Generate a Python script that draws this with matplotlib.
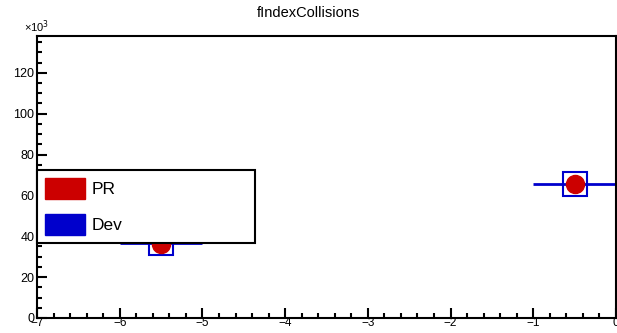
import numpy as np
import matplotlib.pyplot as plt
from matplotlib.patches import Rectangle
from matplotlib.ticker import MultipleLocator, FuncFormatter

plt.rcParams['font.family'] = ['Liberation Sans', 'DejaVu Sans']

# bin centres and contents
x_pr = [-5.5, -0.5]
y_pr = [36000, 65800]
x_dev = [-5.5, -0.5]
y_dev = [36500, 65800]
bin_width = 1.0

fig = plt.figure(figsize=(6.17, 3.33), dpi=100)
ax = fig.add_axes([37/617, 15/333, 579/617, 282/333])

# Dev: open blue squares with bin-width bars
ax.errorbar(x_dev, y_dev, xerr=bin_width/2, yerr=np.sqrt(y_dev), fmt='s',
            mfc='none', mec='#0000cc', mew=1.5, ms=17, color='#0000cc',
            elinewidth=2, capsize=0, zorder=2)
# PR: red filled circles
ax.errorbar(x_pr, y_pr, xerr=0, yerr=np.sqrt(y_pr), fmt='o', color='#cc0000',
            ms=13, elinewidth=0, capsize=0, zorder=3)

ax.set_xlim(-7, 0)
ax.set_ylim(0, 138000)
ax.xaxis.set_major_locator(MultipleLocator(1))
ax.xaxis.set_minor_locator(MultipleLocator(0.2))
ax.yaxis.set_major_locator(MultipleLocator(20000))
ax.yaxis.set_minor_locator(MultipleLocator(5000))
ax.yaxis.set_major_formatter(FuncFormatter(lambda v, p: '%d' % round(v / 1000)))
ax.xaxis.set_major_formatter(FuncFormatter(lambda v, p: ('%d' % v).replace('-', '\u2212')))

ax.tick_params(which='both', direction='in', top=False, right=False,
               width=1.5)
ax.tick_params(axis='y', labelsize=9, pad=2)
ax.tick_params(axis='x', labelsize=8.5, pad=-1)
ax.tick_params(which='major', length=7)
ax.tick_params(which='minor', length=3.5)
for s in ax.spines.values():
    s.set_linewidth(1.5)

ax.text(0, 1.005, '\u00d710$^{3}$', transform=ax.transAxes, fontsize=8,
        ha='center', va='bottom')
fig.text(0.5, 0.962, 'fIndexCollisions', ha='center', va='center', fontsize=10.5)

handles = [Rectangle((0, 0), 1, 1, fc='#cc0000', ec='#cc0000'),
           Rectangle((0, 0), 1, 1, fc='#0000cc', ec='#0000cc')]
leg = ax.legend(handles, ['PR', 'Dev'], loc='upper left',
                bbox_to_anchor=(0.0, 0.266, 0.377, 0.259), mode='expand',
                fontsize=12.5, handlelength=2.3, handleheight=1.5,
                borderaxespad=0, fancybox=False, framealpha=1,
                borderpad=0.45, labelspacing=0.85, handletextpad=0.4)
leg.get_frame().set_edgecolor('black')
leg.get_frame().set_linewidth(1.5)

fig.savefig('out.png', dpi=100)
